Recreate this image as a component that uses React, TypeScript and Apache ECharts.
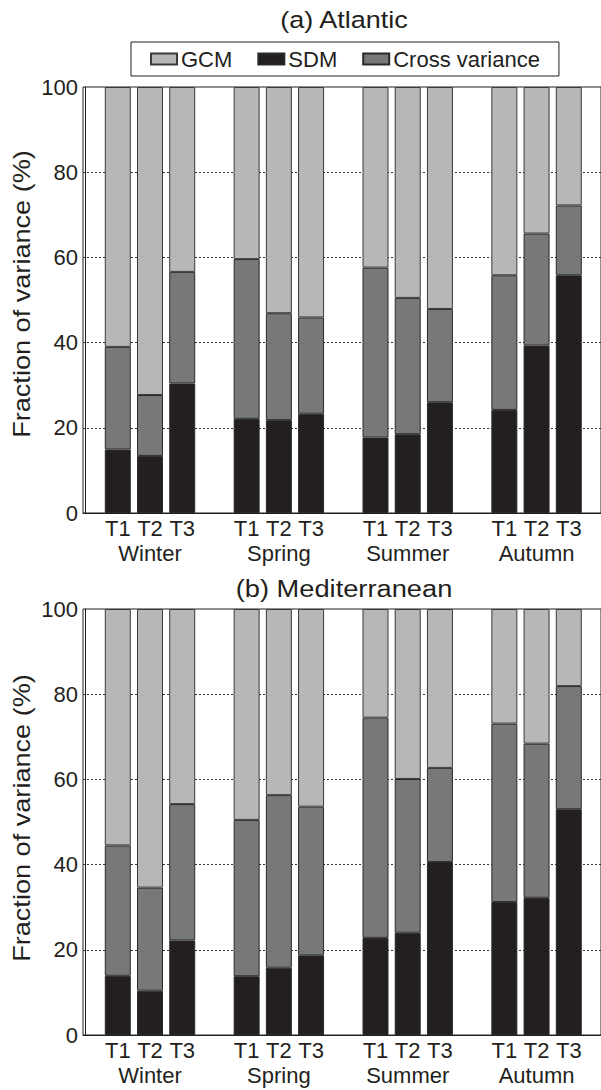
import React, { useEffect, useRef } from "react";
import * as echarts from "echarts";

const positions = [1, 2, 3, 5, 6, 7, 9, 10, 11, 13, 14, 15];
const periodLabels = ["T1", "T2", "T3", "T1", "T2", "T3", "T1", "T2", "T3", "T1", "T2", "T3"];
const seasonPositions = [2, 6, 10, 14];
const seasons = ["Winter", "Spring", "Summer", "Autumn"];

const atlSDM = [14.9, 13.4, 30.4, 22.1, 21.8, 23.3, 17.7, 18.5, 26.0, 24.2, 39.3, 55.8];
const atlCross = [24.1, 14.3, 26.2, 37.5, 25.1, 22.6, 39.9, 32.0, 21.9, 31.6, 26.3, 16.4];
const atlGCM = [61.0, 72.3, 43.4, 40.4, 53.1, 54.1, 42.4, 49.5, 52.1, 44.2, 34.4, 27.8];

const medSDM = [13.9, 10.4, 22.2, 13.8, 15.8, 18.7, 22.8, 24.0, 40.6, 31.2, 32.2, 53.0];
const medCross = [30.6, 24.2, 32.0, 36.7, 40.5, 34.9, 51.7, 36.1, 22.1, 41.9, 36.2, 28.9];
const medGCM = [55.5, 65.4, 45.8, 49.5, 43.7, 46.4, 25.5, 39.9, 37.3, 26.9, 31.6, 18.1];

const yTicks = [0, 20, 40, 60, 80, 100];
const titles = ["(a) Atlantic", "(b) Mediterranean"];
const yName = "Fraction of variance (%)";

const FONT = "'Liberation Sans', Arial, Helvetica, sans-serif";
const INK = "#231f20";
const COLORS = { GCM: "#b6b7b9", SDM: "#231f20", Cross: "#77787a" };

export default function App() {
  const ref = useRef<HTMLDivElement>(null);
  useEffect(() => {
    if (!ref.current) return;
    const chart = echarts.init(ref.current, undefined, { renderer: "svg" });
    const grids = [
      { left: 83, top: 87, height: 426, right: -4 },
      { left: 83, top: 609, height: 426, right: -4 },
    ];
    // value first, position second (encode maps them), so stacking runs on the value dimension
    const mk = (vals: number[]) => positions.map((x, i) => [vals[i], x]);
    const panels = [
      { sdm: atlSDM, cross: atlCross, gcm: atlGCM },
      { sdm: medSDM, cross: medCross, gcm: medGCM },
    ];
    const series: any[] = [];
    panels.forEach((p, gi) => {
      const common = {
        type: "bar",
        stack: "s" + gi,
        xAxisIndex: gi * 2,
        yAxisIndex: gi,
        barWidth: 26,
        encode: { x: 1, y: 0 },
      };
      series.push({ ...common, name: "SDM", data: mk(p.sdm), itemStyle: { color: COLORS.SDM, borderColor: "#2a2a2a", borderWidth: 1 } });
      series.push({ ...common, name: "Cross variance", data: mk(p.cross), itemStyle: { color: COLORS.Cross, borderColor: "#2a2a2a", borderWidth: 1 } });
      series.push({ ...common, name: "GCM", data: mk(p.gcm), itemStyle: { color: COLORS.GCM, borderColor: "#3a3a3a", borderWidth: 1 } });
    });
    const xAxes: any[] = [];
    grids.forEach((_, gi) => {
      xAxes.push({
        type: "value",
        gridIndex: gi,
        min: -0.08,
        max: 16,
        splitLine: { show: false },
        axisTick: { show: false },
        axisLine: { show: true, onZero: false, lineStyle: { color: INK, width: 1 } },
        axisLabel: {
          customValues: positions,
          formatter: (v: number) => periodLabels[positions.indexOf(Math.round(v))] || "",
          showMinLabel: true,
          showMaxLabel: true,
          hideOverlap: false,
          fontFamily: FONT,
          fontSize: 22,
          color: INK,
          margin: 4,
        },
      });
      xAxes.push({
        type: "value",
        gridIndex: gi,
        position: "bottom",
        min: -0.08,
        max: 16,
        splitLine: { show: false },
        axisTick: { show: false },
        axisLine: { show: false },
        axisLabel: {
          customValues: seasonPositions,
          formatter: (v: number) => seasons[seasonPositions.indexOf(Math.round(v))] || "",
          showMinLabel: true,
          showMaxLabel: true,
          hideOverlap: false,
          fontFamily: FONT,
          fontSize: 22,
          color: INK,
          margin: 29,
        },
      });
    });
    const yAxes = grids.map((_, gi) => ({
      type: "value",
      gridIndex: gi,
      min: 0,
      max: 100,
      interval: 20,
      axisTick: { show: false },
      axisLine: { show: true, lineStyle: { color: INK, width: 1 } },
      axisLabel: {
        customValues: yTicks,
        fontFamily: FONT,
        fontSize: 22,
        color: INK,
        margin: 5,
      },
      splitLine: {
        show: true,
        showMinLine: false,
        showMaxLine: false,
        lineStyle: { color: "#333", type: [2, 2], width: 1 },
      },
    }));
    const textEl = (text: string, x: number, y: number, size: number, sx: number, rot = 0) => ({
      type: "text",
      x,
      y,
      rotation: rot,
      scaleX: sx,
      style: { text, font: `${size}px ${FONT}`, fill: INK, align: "center", verticalAlign: "middle" },
    });
    chart.setOption({
      animation: false,
      grid: grids.map((g) => ({ ...g, show: true, borderColor: INK, borderWidth: 1, backgroundColor: "transparent" })),
      legend: {
        data: ["GCM", "SDM", "Cross variance"],
        left: 131,
        top: 42,
        orient: "horizontal",
        padding: [6, 19],
        itemGap: 25,
        itemWidth: 26,
        itemHeight: 11,
        icon: "rect",
        borderColor: INK,
        borderWidth: 1,
        textStyle: { fontFamily: FONT, fontSize: 22, color: INK, padding: [0, 0, 0, -1] },
        selectedMode: false,
      },
      xAxis: xAxes,
      yAxis: yAxes,
      series,
      graphic: [
        textEl(titles[0], 344, 20, 23.5, 1.15),
        textEl(titles[1], 344, 589, 23.5, 1.16),
        textEl(yName, 22, 294, 24, 1.13, Math.PI / 2),
        textEl(yName, 22, 818, 24, 1.13, Math.PI / 2),
      ],
    });
    return () => chart.dispose();
  }, []);
  return (
    <div
      ref={ref}
      style={{ position: "absolute", left: 0, top: 0, width: 601, height: 1090, background: "#fff" }}
    />
  );
}
